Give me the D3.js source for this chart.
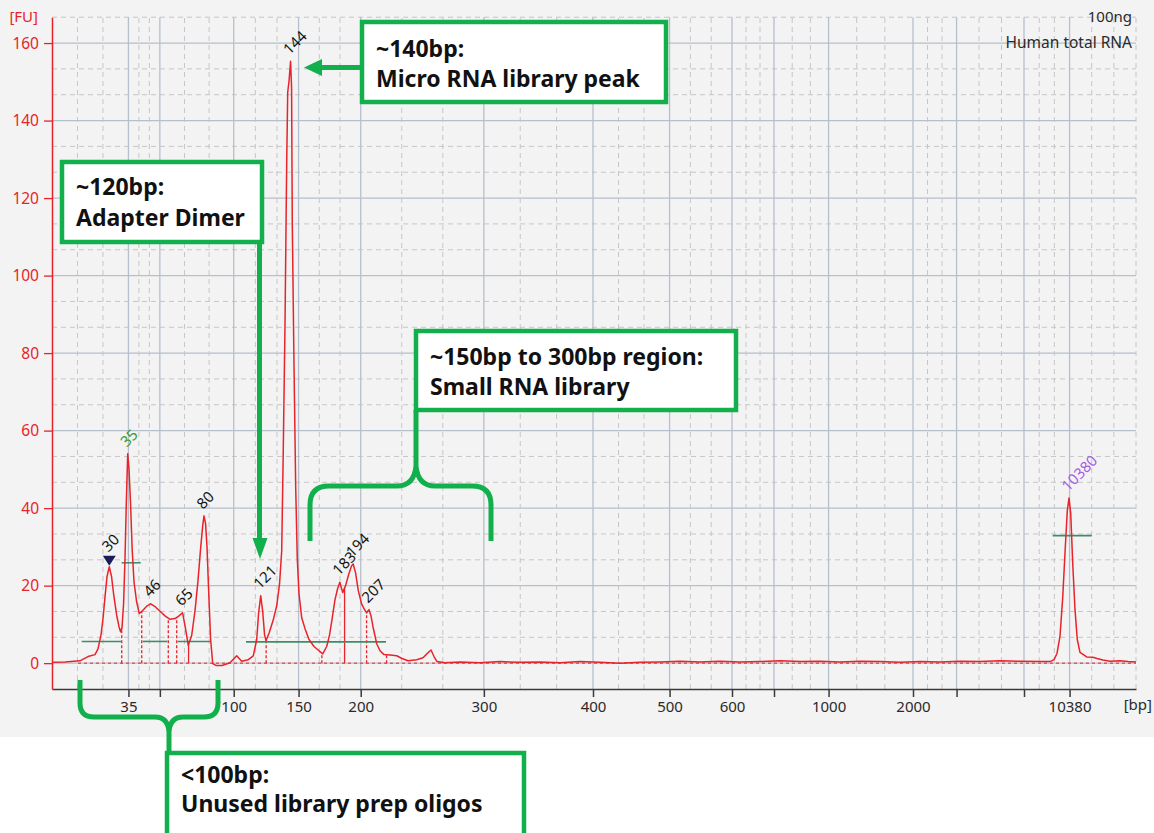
<!DOCTYPE html>
<html>
<head>
<meta charset="utf-8">
<script src="https://cdn.jsdelivr.net/npm/d3@7"></script>
<style>
  body { margin: 0; background: #fff; }
  svg { display: block; }
  text { font-family: "Noto Sans", "DejaVu Sans", sans-serif; }
</style>
</head>
<body>
<svg id="chart" width="1154" height="833"></svg>
<script>
// ---- Ladder calibration: fragment size (bp) vs. migration time (s) ----
const ladderBp   = [35, 50, 100, 150, 200, 300, 400, 500, 600, 700, 1000, 2000, 3000, 7000, 10380];
const ladderTime = [45.35, 47.55, 52.72, 57.26, 61.61, 70.23, 77.87, 83.23, 87.60, 90.54, 94.36, 100.27, 103.32, 108.04, 111.23];
const labeledBp  = [35, 100, 150, 200, 300, 400, 500, 600, 1000, 2000, 10380];
const runWindow  = [40, 115.88];          // seconds shown on the x axis
const fuTicks    = [0, 20, 40, 60, 80, 100, 120, 140, 160];
const fuWindow   = [-6.67, 166.67];

// ---- Electropherogram trace: migration time (s) and fluorescence (FU) ----
const traceTime = [
  40.00, 40.91, 41.96, 42.52, 43.01, 43.22, 43.43, 43.57, 43.71, 43.85,
  44.01, 44.17, 44.31, 44.53, 44.69, 44.80, 44.90, 45.01, 45.11, 45.20,
  45.30, 45.39, 45.50, 45.61, 45.74, 45.92, 46.11, 46.35, 46.63, 46.91,
  47.21, 47.56, 47.91, 48.26, 48.61, 48.89, 49.14, 49.31, 49.54, 49.78,
  50.01, 50.22, 50.40, 50.55, 50.64, 50.75, 50.85, 50.96, 51.10, 51.25,
  51.48, 51.90, 52.46, 52.93, 53.28, 53.74, 54.09, 54.33, 54.46, 54.61,
  54.75, 54.88, 54.98, 55.21, 55.49, 55.73, 55.93, 56.08, 56.19, 56.31,
  56.43, 56.50, 56.59, 56.70, 56.77, 56.82, 56.94, 57.06, 57.17, 57.29,
  57.48, 57.71, 57.99, 58.34, 58.69, 58.95, 59.23, 59.43, 59.60, 59.81,
  59.99, 60.15, 60.35, 60.55, 60.76, 60.97, 61.08, 61.25, 61.44, 61.67,
  61.88, 62.02, 62.19, 62.33, 62.47, 62.73, 62.96, 63.24, 63.66, 64.13,
  64.50, 64.92, 65.53, 65.97, 66.32, 66.53, 66.74, 66.95, 67.51,
  68.56, 69.96, 71.36, 72.76, 74.16, 75.56, 76.96, 78.36, 79.76, 81.16,
  82.56, 83.96, 85.36, 86.76, 88.16, 89.56, 90.96, 92.36, 93.76, 95.16,
  96.56, 97.96, 99.36, 100.76, 102.16, 103.56, 104.96, 106.36, 107.76, 109.16,
  109.86, 110.14, 110.35, 110.56, 110.75, 110.91, 111.07, 111.19, 111.31, 111.45,
  111.61, 111.77, 111.96, 112.43, 112.87, 113.15, 113.57, 114.06, 114.76, 115.32,
  115.88
];
const traceFU = [
  0.2, 0.3, 0.6, 1.7, 2.2, 3.7, 7.3, 11.5, 17.1, 22.3,
  24.9, 22.3, 17.9, 12.3, 9.4, 8.1, 9.1, 15.3, 26.9, 41.1,
  54.0, 50.1, 41.1, 29.5, 21.0, 15.9, 12.8, 13.6, 14.7, 15.3,
  14.6, 13.4, 12.2, 11.3, 11.5, 12.2, 13.0, 9.7, 4.6, 7.2,
  13.5, 21.3, 29.5, 35.5, 38.0, 36.0, 30.0, 19.2, 6.3, -0.1,
  -0.6, -0.6, 0.1, 1.9, 0.5, 0.9, 1.9, 6.1, 12.8, 17.4,
  13.3, 7.3, 5.8, 7.9, 11.2, 14.8, 20.5, 29.0, 55.3, 87.2,
  129.5, 147.3, 150.1, 155.3, 148.6, 113.5, 76.9, 45.2, 26.9, 17.9,
  11.7, 8.9, 6.1, 4.3, 3.2, 2.4, 4.3, 7.3, 11.2, 16.4,
  19.2, 20.9, 18.2, 20.0, 22.8, 25.1, 25.6, 23.3, 18.7, 15.3,
  13.8, 13.0, 13.8, 12.2, 9.4, 5.0, 3.2, 2.2, 2.1, 1.9,
  1.2, 0.6, 0.9, 1.4, 2.7, 3.4, 1.7, 0.4, 0.1,
  0.3, 0.1, 0.4, 0.2, 0.3, 0.1, 0.4, 0.2, 0.0, 0.2,
  0.3, 0.5, 0.3, 0.5, 0.3, 0.4, 0.6, 0.4, 0.5, 0.3,
  0.5, 0.4, 0.2, 0.4, 0.3, 0.5, 0.4, 0.6, 0.5, 0.4,
  0.4, 0.9, 2.5, 7.0, 16.9, 28.4, 39.3, 42.6, 38.7, 25.8,
  13.8, 6.1, 2.8, 1.6, 1.5, 1.2, 0.8, 0.5, 0.6, 0.4,
  0.3
];

// ---- Called peaks ----
const peakBp   = [30, 35, 46, 65, 80, 121, 144, 183, 194, 207, 10380];
const peakTime = [44.01, 45.30, 46.91, 49.14, 50.64, 54.61, 56.70, 60.15, 61.08, 62.19, 111.19];
const peakFU   = [24.9, 54.0, 15.3, 13.0, 38.0, 17.4, 155.3, 20.9, 25.6, 13.8, 42.6];
const peakRole = ["flag", "lower", "peak", "peak", "peak", "peak", "peak", "peak", "peak", "peak", "upper"];

// Peak start / end boundaries (s) and whether they are drawn dashed
const boundTime   = [44.88, 46.28, 48.14, 48.73, 49.56, 54.99, 58.89, 60.48, 62.02, 63.42];
const boundDashed = [true, true, true, true, false, true, true, false, true, true];

// Integration bars: level (FU), start and end (s)
const barFU    = [5.6, 5.6, 5.6, 5.5, 25.9, 32.9];
const barStart = [42.08, 46.35, 48.80, 53.58, 44.88, 110.05];
const barEnd   = [44.88, 48.07, 51.13, 63.38, 46.21, 112.78];

// ---- Layout ----
const svg = d3.select("#chart");
const x = d3.scaleLinear().domain(runWindow).range([52, 1136]);
const y = d3.scaleLinear().domain(fuWindow).range([689, 17.2]);
const RED = "#e8232a";
const NOTE = "#12b04d";

svg.append("rect").attr("x", 0).attr("y", 0).attr("width", 1154).attr("height", 737).attr("fill", "#f3f3f3");

const grid = svg.append("g");
// horizontal grid: solid at ticks, dashed at thirds
const fuMinor = d3.range(1, 26).filter(k => k % 3 !== 0).map(k => k * 20 / 3);
grid.selectAll(".hmin").data(fuMinor).join("line")
  .attr("x1", x(runWindow[0])).attr("x2", x(runWindow[1]))
  .attr("y1", d => y(d)).attr("y2", d => y(d))
  .attr("stroke", "#c6c6c6").attr("stroke-dasharray", "5,4").attr("stroke-width", 1);
grid.selectAll(".hmaj").data(fuTicks).join("line")
  .attr("x1", x(runWindow[0])).attr("x2", x(runWindow[1]))
  .attr("y1", d => y(d)).attr("y2", d => y(d))
  .attr("stroke", "#b6bfcc").attr("stroke-width", 1.3);
// vertical grid: solid at ladder sizes, dashed at thirds between them
const edges = [runWindow[0], ...ladderTime, runWindow[1]];
const timeMinor = [];
for (let i = 0; i < edges.length - 1; i++) {
  const a = edges[i], b = edges[i + 1];
  timeMinor.push(a + (b - a) / 3, a + 2 * (b - a) / 3);
}
timeMinor.push(runWindow[1]);
grid.selectAll(".vmin").data(timeMinor).join("line")
  .attr("x1", d => x(d)).attr("x2", d => x(d))
  .attr("y1", y(fuWindow[0])).attr("y2", y(fuWindow[1]))
  .attr("stroke", "#c6c6c6").attr("stroke-dasharray", "5,4").attr("stroke-width", 1);
grid.selectAll(".vmaj").data(ladderTime).join("line")
  .attr("x1", d => x(d)).attr("x2", d => x(d))
  .attr("y1", y(fuWindow[0])).attr("y2", y(fuWindow[1]))
  .attr("stroke", "#b6bfcc").attr("stroke-width", 1.3);

// baseline
svg.append("line")
  .attr("x1", x(41.82)).attr("x2", x(runWindow[1]))
  .attr("y1", y(0)).attr("y2", y(0))
  .attr("stroke", RED).attr("stroke-width", 1).attr("stroke-dasharray", "3,3");

// trace value at a given time (linear between samples)
const bis = d3.bisector(d => d).left;
function fuAt(t) {
  const i = Math.max(1, Math.min(traceTime.length - 1, bis(traceTime, t)));
  const t0 = traceTime[i - 1], t1 = traceTime[i];
  return traceFU[i - 1] + (traceFU[i] - traceFU[i - 1]) * (t - t0) / (t1 - t0);
}

// peak boundaries
svg.append("g").selectAll("line").data(boundTime).join("line")
  .attr("x1", d => x(d)).attr("x2", d => x(d))
  .attr("y1", y(0)).attr("y2", d => y(fuAt(d)))
  .attr("stroke", RED).attr("stroke-width", 1.3)
  .attr("stroke-dasharray", (d, i) => boundDashed[i] ? "3,2" : null);

// integration bars
svg.append("g").selectAll("line").data(barFU).join("line")
  .attr("x1", (d, i) => x(barStart[i])).attr("x2", (d, i) => x(barEnd[i]))
  .attr("y1", d => y(d)).attr("y2", d => y(d))
  .attr("stroke", "#3f8d68").attr("stroke-width", 1.6);

// trace
const line = d3.line().x(d => x(d[0])).y(d => y(d[1]));
svg.append("path")
  .datum(traceTime.map((t, i) => [t, traceFU[i]]))
  .attr("d", line).attr("fill", "none")
  .attr("stroke", RED).attr("stroke-width", 1.5).attr("stroke-linejoin", "round");

// flagged peak marker
peakRole.forEach((r, i) => {
  if (r !== "flag") return;
  const px = x(peakTime[i]), py = y(peakFU[i]);
  svg.append("path")
    .attr("d", `M${px},${py - 1}L${px - 6.5},${py - 11}L${px + 6.5},${py - 11}Z`)
    .attr("fill", "#1c1c5c");
});

// peak labels
const labelColor = { lower: "#3c9a2c", upper: "#a45ee5", peak: "#151515", flag: "#151515" };
svg.append("g").selectAll("text").data(peakBp).join("text")
  .attr("transform", (d, i) => {
    const lift = peakRole[i] === "flag" ? 14 : 6;
    return `translate(${x(peakTime[i]) - 1},${y(peakFU[i]) - lift}) rotate(-45)`;
  })
  .attr("font-size", 15)
  .attr("fill", (d, i) => labelColor[peakRole[i]])
  .text(d => d);

// axes
const xAxis = d3.axisBottom(x)
  .tickValues(ladderTime)
  .tickFormat((t, i) => labeledBp.includes(ladderBp[i]) ? ladderBp[i] : "")
  .tickSize(8).tickSizeOuter(0).tickPadding(4);
const gx = svg.append("g").attr("transform", `translate(0,${y(fuWindow[0])})`).call(xAxis);
gx.select(".domain").attr("stroke", "#3a3a3a").attr("stroke-width", 1.5);
gx.selectAll(".tick line").attr("stroke", "#3a3a3a").attr("stroke-width", 1.5);
gx.selectAll(".tick text").attr("font-size", 15).attr("fill", "#2a2a2a").attr("font-family", "Noto Sans");

const yAxis = d3.axisLeft(y).tickValues(fuTicks).tickSize(8).tickSizeOuter(0).tickPadding(5);
const gy = svg.append("g").attr("transform", `translate(${x(runWindow[0])},0)`).call(yAxis);
gy.select(".domain").attr("stroke", RED).attr("stroke-width", 1.5);
gy.selectAll(".tick line").attr("stroke", RED).attr("stroke-width", 1.3);
gy.selectAll(".tick text").attr("font-size", 15.5).attr("fill", RED).attr("font-family", "Noto Sans");

svg.append("text").attr("x", 38).attr("y", 22).attr("text-anchor", "end")
  .attr("font-size", 15).attr("fill", RED).text("[FU]");
svg.append("text").attr("x", 1152).attr("y", 710).attr("text-anchor", "end")
  .attr("font-size", 15).attr("fill", "#2a2a2a").text("[bp]");
svg.append("text").attr("x", 1132).attr("y", 22).attr("text-anchor", "end")
  .attr("font-size", 15).attr("fill", "#2a2a2a").text("100ng");
svg.append("text").attr("x", 1132).attr("y", 48).attr("text-anchor", "end")
  .attr("font-size", 15.5).attr("fill", "#2a2a2a").text("Human total RNA");

// ---- Callouts ----
const notes = [
  { lines: ["~140bp:", "Micro RNA library peak"], box: [362, 22, 304, 80], base: [35, 65] },
  { lines: ["~120bp:", "Adapter Dimer"], box: [62, 162, 200, 80], base: [33, 64] },
  { lines: ["~150bp to 300bp region:", "Small RNA library"], box: [416, 331, 320, 79], base: [34, 64] },
  { lines: ["<100bp:", "Unused library prep oligos"], box: [167, 753, 357, 95], base: [30, 59] }
];
const cg = svg.append("g");
notes.forEach(n => {
  const [bx, by, bw, bh] = n.box;
  cg.append("rect").attr("x", bx).attr("y", by).attr("width", bw).attr("height", bh)
    .attr("fill", "#fff").attr("stroke", NOTE).attr("stroke-width", 4.5);
  n.lines.forEach((s, j) => {
    cg.append("text").attr("x", bx + 14).attr("y", by + n.base[j])
      .attr("font-family", "Open Sans").attr("font-weight", 700).attr("font-size", 23)
      .attr("fill", "#111").text(s);
  });
});
// arrows
cg.append("line").attr("x1", 362).attr("y1", 67.5).attr("x2", 318).attr("y2", 67.5)
  .attr("stroke", NOTE).attr("stroke-width", 5);
cg.append("path").attr("d", "M304,67.5L322,59L322,76Z").attr("fill", NOTE);
cg.append("line").attr("x1", 259.5).attr("y1", 242).attr("x2", 259.5).attr("y2", 542)
  .attr("stroke", NOTE).attr("stroke-width", 5);
cg.append("path").attr("d", "M260,559L252.5,538L267.5,538Z").attr("fill", NOTE);
// braces
cg.append("path")
  .attr("d", "M310,541L310,505Q310,486 329,486L397,486Q414,486 416,466L416,410M416,466Q418,486 435,486L472,486Q491,486 491,505L491,541")
  .attr("fill", "none").attr("stroke", NOTE).attr("stroke-width", 5);
cg.append("path")
  .attr("d", "M80,680L80,703Q80,717 94,717L155,717Q168,717 169,732L169,753M169,732Q170,717 183,717L204,717Q218,717 218,703L218,680")
  .attr("fill", "none").attr("stroke", NOTE).attr("stroke-width", 5);
</script>
</body>
</html>
